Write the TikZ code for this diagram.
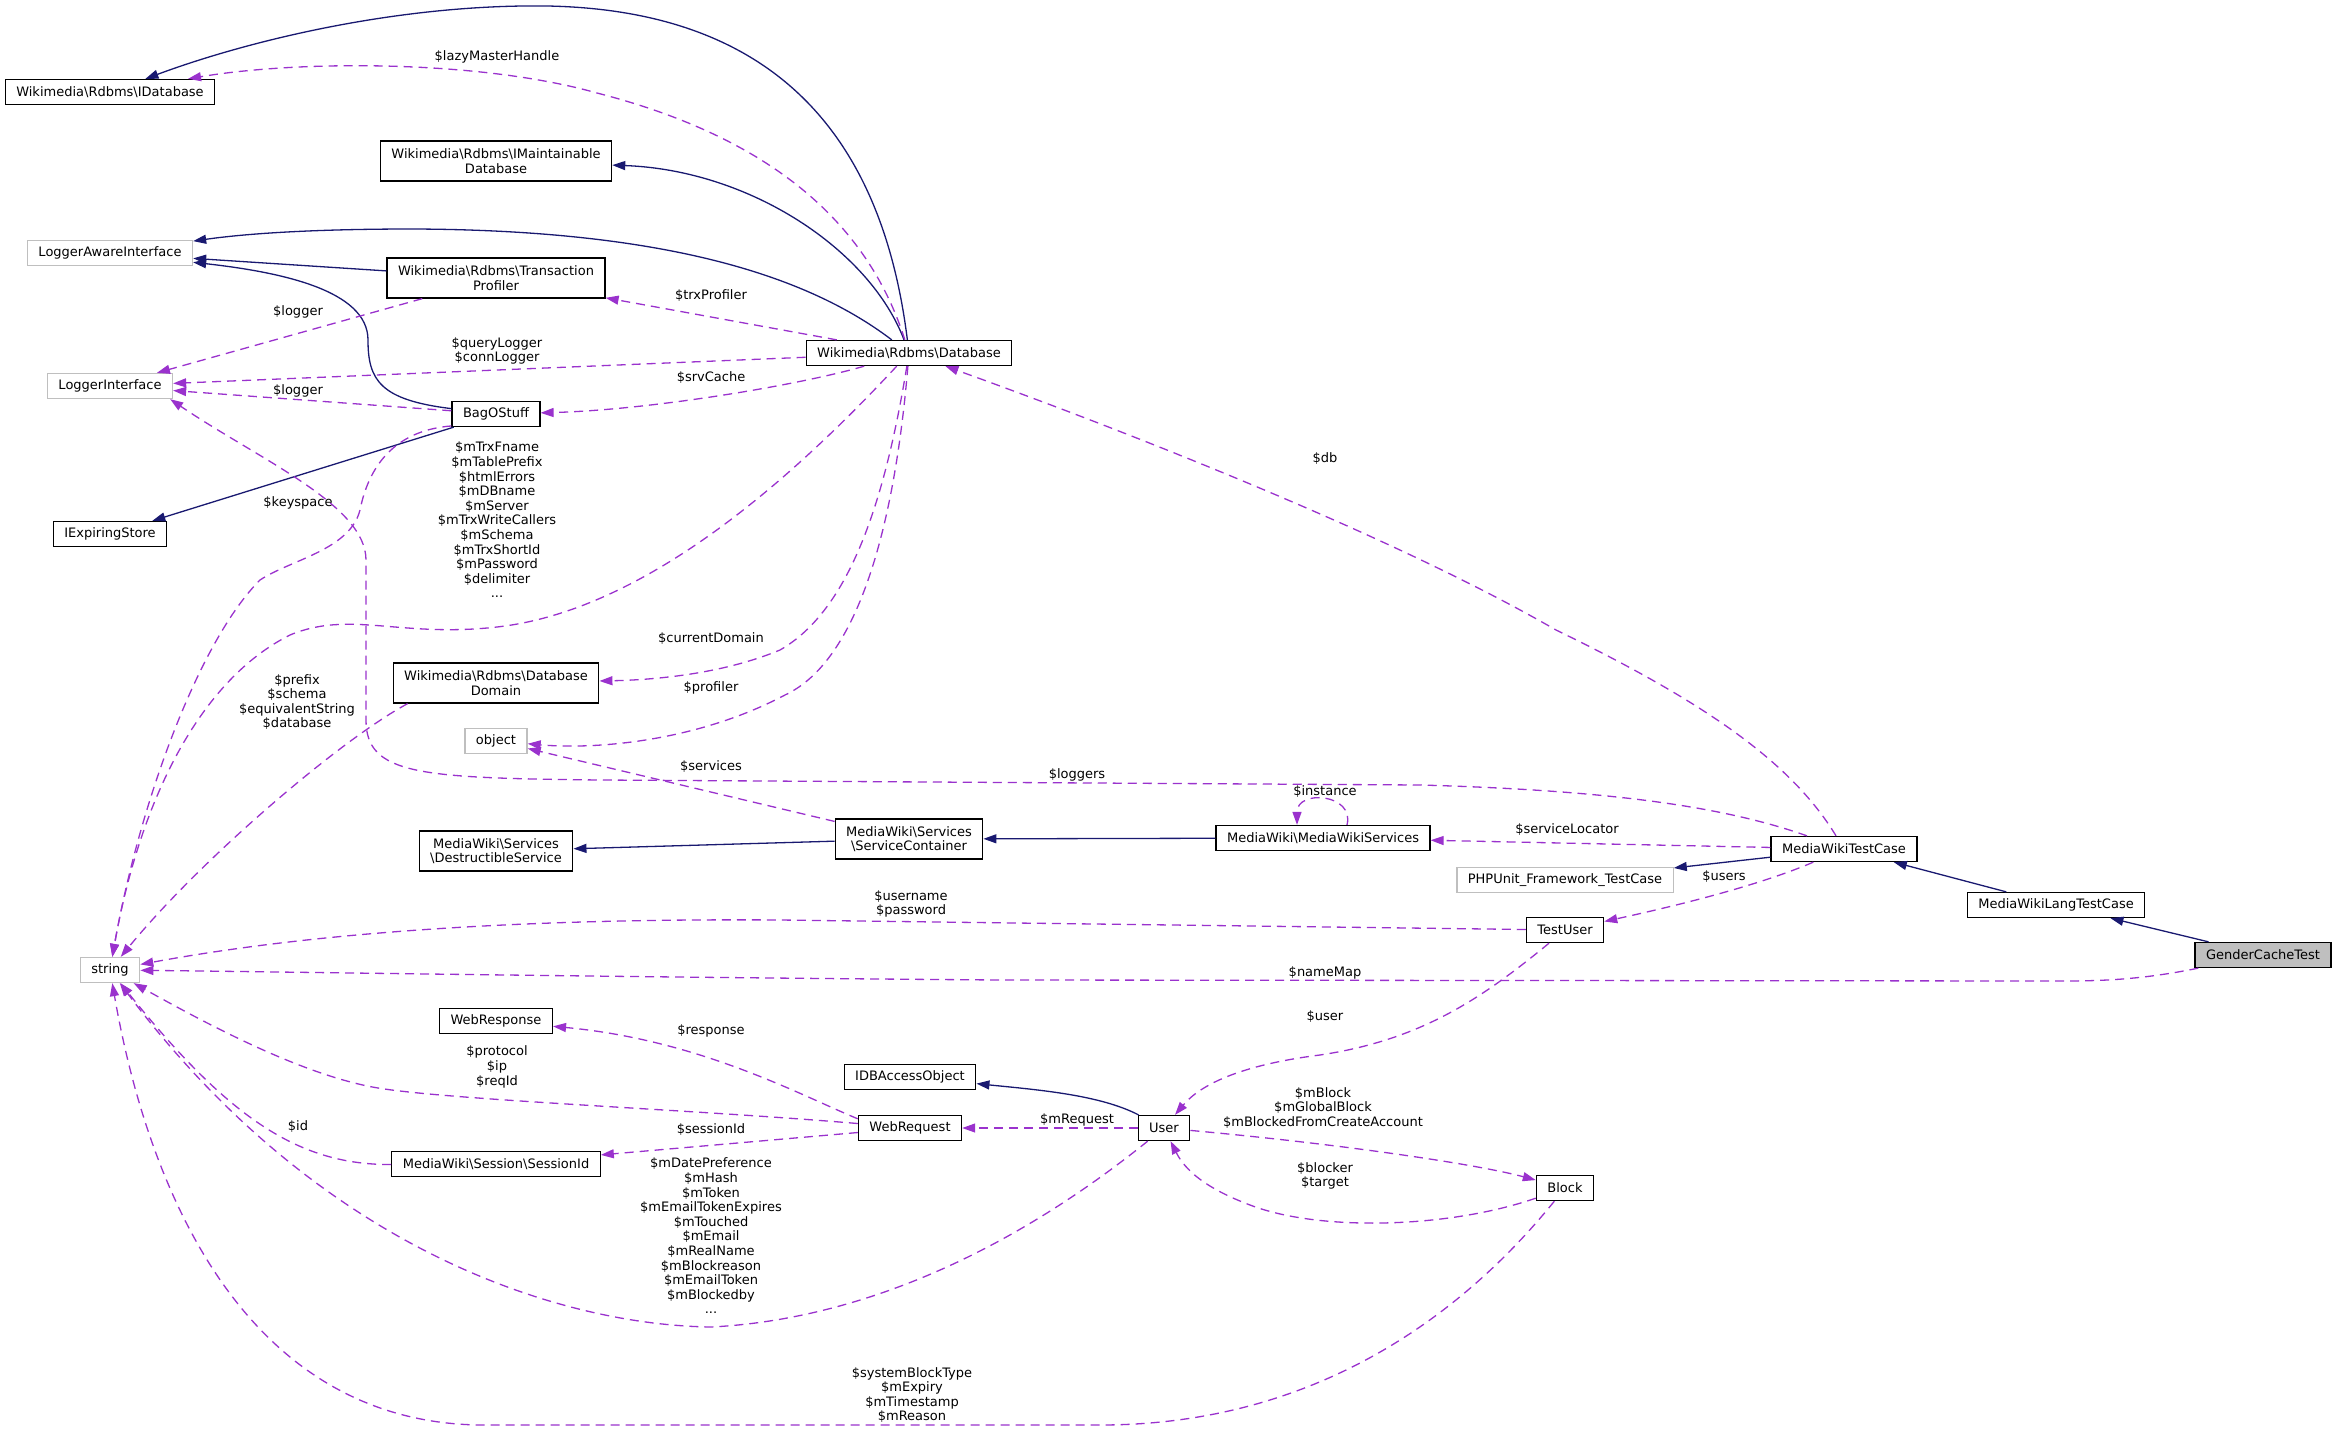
\documentclass[tikz,border=0pt]{standalone}
\usepackage{fontspec}
\setmainfont{DejaVu Sans}
\usetikzlibrary{arrows.meta}
\definecolor{edgeblue}{RGB}{25,25,112}
\definecolor{edgepurple}{RGB}{154,50,205}
\definecolor{extgray}{RGB}{191,191,191}
\tikzset{
  classbox/.style={draw=black, line width=1.3pt, fill=white, minimum height=25pt,
    inner xsep=11pt, inner ysep=2pt, align=center},
  twoline/.style={minimum height=40pt},
  extbox/.style={classbox, draw=extgray},
  mainbox/.style={classbox, fill=extgray},
  lbl/.style={inner sep=0pt, align=center},
  inhedge/.style={draw=edgeblue, line width=1.3pt, -{Triangle[length=13pt,width=9pt]}},
  useedge/.style={draw=edgepurple, line width=1.3pt, dash pattern=on 9pt off 6pt,
    -{Triangle[length=13pt,width=9pt]}},
}
\begin{document}
\begin{tikzpicture}[x=1pt, y=-1pt, every node/.style={font=\fontsize{13}{14.6}\selectfont}]
\useasboundingbox (0,0) rectangle (2336,1431);

% Classes, left column
\node[classbox] (idb) at (110,92) {Wikimedia\textbackslash Rdbms\textbackslash IDatabase};
\node[extbox] (logaware) at (110,253) {LoggerAwareInterface};
\node[extbox] (loginterface) at (110,386) {LoggerInterface};
\node[classbox] (iexpiring) at (110,534) {IExpiringStore};
\node[extbox] (string) at (110,970) {string};

% Classes, second column
\node[classbox, twoline] (imaint) at (496,161) {Wikimedia\textbackslash Rdbms\textbackslash IMaintainable\\Database};
\node[classbox, twoline] (trxprof) at (496,278) {Wikimedia\textbackslash Rdbms\textbackslash Transaction\\Profiler};
\node[classbox] (bagostuff) at (496,414) {BagOStuff};
\node[classbox, twoline] (dbdomain) at (496,683) {Wikimedia\textbackslash Rdbms\textbackslash Database\\Domain};
\node[extbox] (object) at (496,741) {object};
\node[classbox, twoline] (destructible) at (496,851) {MediaWiki\textbackslash Services\\\textbackslash DestructibleService};
\node[classbox] (webresponse) at (496,1021) {WebResponse};
\node[classbox] (sessionid) at (496,1164) {MediaWiki\textbackslash Session\textbackslash SessionId};

% Classes, middle
\node[classbox] (database) at (909,353) {Wikimedia\textbackslash Rdbms\textbackslash Database};
\node[classbox, twoline] (servcont) at (909,839) {MediaWiki\textbackslash Services\\\textbackslash ServiceContainer};
\node[classbox] (idbaccess) at (910,1077) {IDBAccessObject};
\node[classbox] (webrequest) at (910,1128) {WebRequest};
\node[classbox] (user) at (1164,1128) {User};
\node[classbox] (mwservices) at (1323,838) {MediaWiki\textbackslash MediaWikiServices};

% Classes, right side
\node[extbox] (phpunit) at (1565,880) {PHPUnit\_Framework\_TestCase};
\node[classbox] (testuser) at (1565,930) {TestUser};
\node[classbox] (block) at (1565,1188) {Block};
\node[classbox] (mwtestcase) at (1844,849) {MediaWikiTestCase};
\node[classbox] (mwlangtest) at (2056,905) {MediaWikiLangTestCase};
\node[mainbox] (gendercache) at (2263,955) {GenderCacheTest};

% Inheritance
\draw[inhedge] (database) .. controls (880,120) and (760,10) .. (547,6)
  .. controls (400,4) and (250,40) .. (idb);
\draw[inhedge] (database) .. controls (870,250) and (750,170) .. (imaint);
\draw[inhedge] (database) .. controls (800,270) and (650,230) .. (413,229)
  .. controls (320,229) and (250,233) .. (logaware);
\draw[inhedge] (trxprof) -- (logaware);
\draw[inhedge] (bagostuff) .. controls (380,400) and (368,380) .. (368,340)
  .. controls (368,290) and (280,272) .. (logaware);
\draw[inhedge] (bagostuff) -- (iexpiring);
\draw[inhedge] (servcont) -- (destructible);
\draw[inhedge] (mwservices) -- (servcont);
\draw[inhedge] (mwtestcase) -- (phpunit);
\draw[inhedge] (mwlangtest) -- (mwtestcase);
\draw[inhedge] (gendercache) -- (mwlangtest);
\draw[inhedge] (user) .. controls (1100,1095) and (1040,1090) .. (idbaccess);

% Members
\draw[useedge] (database) .. controls (870,230) and (780,140) .. (597,93)
  .. controls (480,60) and (300,60) .. (idb);
\draw[useedge] (database) -- (trxprof);
\draw[useedge] (trxprof) -- (loginterface);
\draw[useedge] (database) -- (loginterface);
\draw[useedge] (database) .. controls (800,385) and (650,410) .. (bagostuff);
\draw[useedge] (bagostuff) -- (loginterface);
\draw[useedge] (mwtestcase) .. controls (1720,805) and (1600,790) .. (1420,785) -- (600,780)
  .. controls (420,778) and (366,775) .. (366,720) -- (366,560)
  .. controls (366,505) and (260,460) .. ([xshift=-3pt]loginterface.south east);
\draw[useedge] (bagostuff.195) .. controls (400,430) and (370,460) .. (360,510)
  .. controls (350,550) and (290,560) .. (260,580)
  .. controls (200,640) and (140,800) .. (string);
\draw[useedge] (database) .. controls (800,470) and (650,610) .. (497,627)
  .. controls (400,638) and (350,610) .. (290,635)
  .. controls (200,680) and (140,800) .. (string);
\draw[useedge] (database) .. controls (885,500) and (850,610) .. (780,650)
  .. controls (720,675) and (650,680) .. (dbdomain);
\draw[useedge] (database) .. controls (895,520) and (860,660) .. (785,695)
  .. controls (700,740) and (600,750) .. (object);
\draw[useedge] ([xshift=15pt]dbdomain.south west) .. controls (340,740) and (200,860) .. (string);
\draw[useedge] (servcont) -- (object);
\draw[useedge] ([xshift=24pt]mwservices.north) .. controls +(8,-31) and +(0,-36)
  .. ([xshift=-26pt]mwservices.north);
\draw[useedge] (mwtestcase) -- (mwservices);
\draw[useedge] (mwtestcase) .. controls (1760,885) and (1680,905) .. (testuser);
\draw[useedge] (mwtestcase) .. controls (1790,760) and (1700,700) .. (1556,630)
  .. controls (1400,540) and (1150,440) .. (database);
\draw[useedge] (gendercache) .. controls (2140,980) and (2100,981) .. (2060,981) -- (1000,980)
  .. controls (600,977) and (300,972) .. (string);
\draw[useedge] (testuser) -- (780,920) .. controls (500,918) and (300,935) .. (string);
\draw[useedge] (testuser) .. controls (1480,1000) and (1420,1040) .. (1320,1055)
  .. controls (1240,1065) and (1200,1085) .. (user);
\draw[useedge] (user) -- (webrequest);
\draw[useedge] (user) .. controls (1350,1145) and (1480,1165) .. (block);
\draw[useedge] (block) .. controls (1450,1228) and (1320,1232) .. (1250,1205)
  .. controls (1205,1188) and (1185,1170) .. (user);
\draw[useedge] (block) .. controls (1450,1330) and (1300,1425) .. (1100,1425) -- (480,1425)
  .. controls (250,1422) and (150,1200) .. (string);
\draw[useedge] (user) .. controls (1000,1260) and (850,1320) .. (711,1327)
  .. controls (560,1325) and (320,1250) .. (string);
\draw[useedge] (webrequest) .. controls (700,1110) and (450,1100) .. (378,1088)
  .. controls (300,1075) and (200,1020) .. (string);
\draw[useedge] (webrequest.170) .. controls (800,1095) and (700,1040) .. (webresponse);
\draw[useedge] (webrequest) -- (sessionid);
\draw[useedge] (sessionid) .. controls (300,1165) and (230,1120) .. (string);

% Edge labels
\node[lbl] (l-lazy) at (497,57) {\$lazyMasterHandle};
\node[lbl] (l-trx) at (711,296) {\$trxProfiler};
\node[lbl] (l-tplog) at (298,312) {\$logger};
\node[lbl] (l-query) at (497,351) {\$queryLogger\\\$connLogger};
\node[lbl] (l-srv) at (711,378) {\$srvCache};
\node[lbl] (l-baglog) at (298,391) {\$logger};
\node[lbl] (l-mtrx) at (497,520) {\$mTrxFname\\\$mTablePrefix\\\$htmlErrors\\\$mDBname\\\$mServer\\\$mTrxWriteCallers\\\$mSchema\\\$mTrxShortId\\\$mPassword\\\$delimiter\\...};
\node[lbl] (l-key) at (298,503) {\$keyspace};
\node[lbl] (l-db) at (1325,459) {\$db};
\node[lbl] (l-curdom) at (711,639) {\$currentDomain};
\node[lbl] (l-prof) at (711,688) {\$profiler};
\node[lbl] (l-prefix) at (297,702) {\$prefix\\\$schema\\\$equivalentString\\\$database};
\node[lbl] (l-serv) at (711,767) {\$services};
\node[lbl] (l-loggers) at (1077,775) {\$loggers};
\node[lbl] (l-inst) at (1325,792) {\$instance};
\node[lbl] (l-sloc) at (1567,830) {\$serviceLocator};
\node[lbl] (l-users) at (1724,877) {\$users};
\node[lbl] (l-upw) at (911,904) {\$username\\\$password};
\node[lbl] (l-name) at (1325,973) {\$nameMap};
\node[lbl] (l-user) at (1325,1017) {\$user};
\node[lbl] (l-resp) at (711,1031) {\$response};
\node[lbl] (l-proto) at (497,1067) {\$protocol\\\$ip\\\$reqId};
\node[lbl] (l-mreq) at (1077,1120) {\$mRequest};
\node[lbl] (l-mblock) at (1323,1108) {\$mBlock\\\$mGlobalBlock\\\$mBlockedFromCreateAccount};
\node[lbl] (l-id) at (298,1127) {\$id};
\node[lbl] (l-sess) at (711,1130) {\$sessionId};
\node[lbl] (l-blocker) at (1325,1176) {\$blocker\\\$target};
\node[lbl] (l-mdate) at (711,1236) {\$mDatePreference\\\$mHash\\\$mToken\\\$mEmailTokenExpires\\\$mTouched\\\$mEmail\\\$mRealName\\\$mBlockreason\\\$mEmailToken\\\$mBlockedby\\...};
\node[lbl] (l-sys) at (912,1395) {\$systemBlockType\\\$mExpiry\\\$mTimestamp\\\$mReason};
\end{tikzpicture}
\end{document}
